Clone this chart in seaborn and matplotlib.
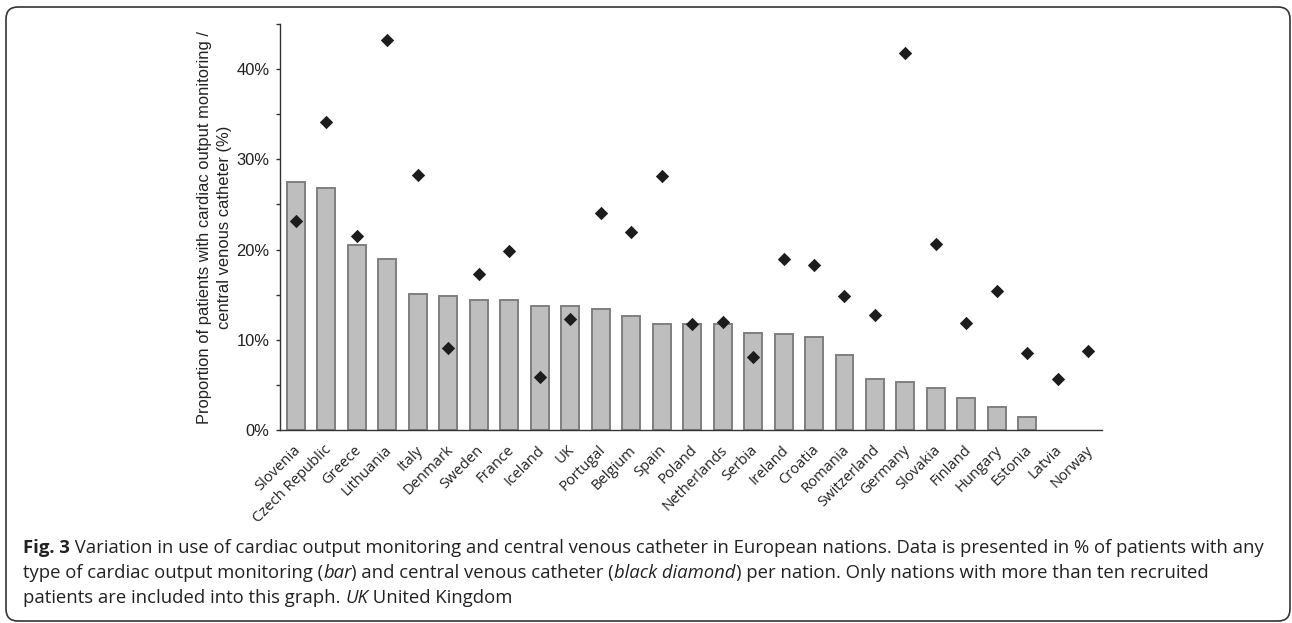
import seaborn as sns
import pandas
import matplotlib
import matplotlib.pyplot as plt
from matplotlib.patches import FancyBboxPatch
from matplotlib.transforms import IdentityTransform, ScaledTranslation
from matplotlib.ticker import MultipleLocator, FuncFormatter

countries = ["Slovenia", "Czech Republic", "Greece", "Lithuania", "Italy", "Denmark",
             "Sweden", "France", "Iceland", "UK", "Portugal", "Belgium", "Spain",
             "Poland", "Netherlands", "Serbia", "Ireland", "Croatia", "Romania",
             "Switzerland", "Germany", "Slovakia", "Finland", "Hungary", "Estonia",
             "Latvia", "Norway"]
# % with any cardiac output monitoring (bar)
cardiac_output = [27.5, 26.8, 20.5, 18.9, 15.1, 14.8, 14.4, 14.4, 13.7, 13.7, 13.4, 12.6,
                  11.8, 11.8, 11.7, 10.8, 10.6, 10.3, 8.3, 5.7, 5.3, 4.6, 3.5, 2.6, 1.4,
                  0.0, 0.0]
# % with central venous catheter (black diamond)
cvc = [23.2, 34.1, 21.5, 43.2, 28.3, 9.1, 17.3, 19.8, 5.9, 12.3, 24.1, 22.0, 28.2, 11.8,
       12.0, 8.1, 19.0, 18.3, 14.9, 12.7, 41.8, 20.6, 11.9, 15.4, 8.5, 5.6, 8.8]

df = pandas.DataFrame({"nation": countries, "co": cardiac_output, "cvc": cvc})

sns.set_style("ticks")
plt.rcParams["font.family"] = ["Liberation Sans", "DejaVu Sans"]

W, H, DPI = 12.92, 6.23, 100
fig = plt.figure(figsize=(W, H), dpi=DPI)
ax = fig.add_axes([280 / 1292, 1 - 430 / 623, (1102 - 280) / 1292, (430 - 24) / 623])

sns.barplot(ax=ax, data=df, x="nation", y="co", color="#bebebe", edgecolor="#7f7f7f",
            linewidth=1.4, width=0.59, saturation=1, errorbar=None)
# no bar outline for nations without any cardiac output monitoring
for bar in ax.patches:
    if bar.get_height() == 0:
        bar.set_visible(False)
sns.stripplot(ax=ax, data=df, x="nation", y="cvc", jitter=False, marker="D", size=6.8,
              color="#1c1c1c", linewidth=0, zorder=5)

ax.set_xlim(-0.524, 26.45)
ax.set_ylim(0, 45)
ax.yaxis.set_major_locator(MultipleLocator(10))
ax.yaxis.set_minor_locator(MultipleLocator(5))
ax.yaxis.set_major_formatter(FuncFormatter(lambda v, p: f"{v:.0f}%"))
ax.tick_params(axis="y", which="both", length=3.2, width=1, color="#333333",
               labelsize=11.9, pad=4.5, labelcolor="#222222")
ax.tick_params(axis="x", length=0, pad=9)
for s in ["top", "right"]:
    ax.spines[s].set_visible(False)
for s in ["left", "bottom"]:
    ax.spines[s].set_color("#333333")
    ax.spines[s].set_linewidth(1)

ax.set_xlabel("")
ax.set_ylabel("Proportion of patients with cardiac output monitoring /\ncentral venous catheter (%)",
              fontsize=11.9, color="#222222", labelpad=3, linespacing=1.38)
ax.set_xticks(range(len(countries)))
ax.set_xticklabels(countries, rotation=45, ha="right", rotation_mode="anchor",
                   fontfamily="Open Sans", fontsize=10.6, color="#222222")
shift = ScaledTranslation(-2 / 72, 0, fig.dpi_scale_trans)
for lab in ax.get_xticklabels():
    lab.set_transform(lab.get_transform() + shift)

# caption, built from runs of normal / bold / italic text
caption = [
    [("Fig. 3", "bold", "normal"),
     (" Variation in use of cardiac output monitoring and central venous catheter in European nations. Data is presented in % of patients with any", "normal", "normal")],
    [("type of cardiac output monitoring (", "normal", "normal"), ("bar", "normal", "italic"),
     (") and central venous catheter (", "normal", "normal"), ("black diamond", "normal", "italic"),
     (") per nation. Only nations with more than ten recruited", "normal", "normal")],
    [("patients are included into this graph. ", "normal", "normal"), ("UK", "normal", "italic"),
     (" United Kingdom", "normal", "normal")],
]
cap_kw = dict(fontfamily="Open Sans", fontsize=13.3, color="#222222")
renderer = fig.canvas.get_renderer()


def run_width(s, weight, style):
    t1 = fig.text(0, 0, s + "|", fontweight=weight, fontstyle=style, **cap_kw)
    t2 = fig.text(0, 0, "|", fontweight=weight, fontstyle=style, **cap_kw)
    w = t1.get_window_extent(renderer).width - t2.get_window_extent(renderer).width
    t1.remove()
    t2.remove()
    return w


line_y = [548, 573, 598]
for line, yp in zip(caption, line_y):
    xp = 23
    for s, weight, style in line:
        fig.text(xp / 1292, 1 - yp / 623, s, fontweight=weight, fontstyle=style,
                 va="center", ha="left", **cap_kw)
        xp += run_width(s, weight, style)

# rounded frame around the figure
frame = FancyBboxPatch((6, 2), 1284, 614, boxstyle="round,pad=0,rounding_size=12",
                       transform=IdentityTransform(), fill=False, edgecolor="#333333",
                       linewidth=1.2)
fig.patches.append(frame)

fig.savefig("out.png", dpi=DPI)
